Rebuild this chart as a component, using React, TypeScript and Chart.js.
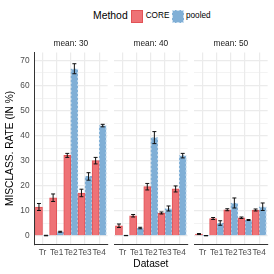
import React, { useEffect, useRef } from 'react';
import { Chart, registerables } from 'chart.js';

Chart.register(...registerables);

// ---------- data ----------
const categories = ['Tr', 'Te1', 'Te2', 'Te3', 'Te4'];
const facetLabels = ['mean: 30', 'mean: 40', 'mean: 50'];
const seriesNames = ['CORE', 'pooled'];

const core30 = [11.5, 15.2, 32.1, 17.1, 30.0];
const coreErr30 = [1.4, 1.5, 0.8, 1.5, 1.3];
const pooled30 = [0.1, 1.6, 66.7, 23.7, 44.0];
const pooledErr30 = [0.1, 0.2, 2.0, 1.5, 0.5];

const core40 = [4.0, 8.0, 19.6, 9.1, 18.7];
const coreErr40 = [0.7, 0.5, 1.3, 0.4, 1.2];
const pooled40 = [0.1, 3.1, 39.2, 10.9, 32.0];
const pooledErr40 = [0.05, 0.3, 2.4, 1.0, 0.9];

const core50 = [0.7, 6.9, 10.4, 7.2, 10.3];
const coreErr50 = [0.2, 0.4, 0.4, 0.3, 0.4];
const pooled50 = [0.05, 5.1, 13.1, 6.3, 11.6];
const pooledErr50 = [0.05, 0.9, 2.0, 0.2, 1.5];

const yTickValues = [0, 5, 10, 15, 20, 25, 30, 35, 40, 45, 50, 55, 60, 65, 70];
const yLabelValues = [0, 10, 20, 30, 40, 50, 60, 70];

const legendTitle = 'Method';
const xTitle = 'Dataset';
const yTitle = 'MISCLASS. RATE (IN %)';

// ---------- style ----------
const FONT = "'Liberation Sans', Arial, Helvetica, sans-serif";
const CORE_FILL = 'rgb(238,114,118)';
const CORE_BORDER = 'rgb(226,82,86)';
const POOLED_FILL = 'rgb(128,175,214)';
const POOLED_DOT = 'rgb(205,224,240)';
const GRID = '#EBEBEB';
const AXIS = '#333333';

const Y_MIN = -3.4;
const Y_MAX = 73.2;

const panels = [
  { label: facetLabels[0], core: core30, coreErr: coreErr30, pooled: pooled30, pooledErr: pooledErr30 },
  { label: facetLabels[1], core: core40, coreErr: coreErr40, pooled: pooled40, pooledErr: pooledErr40 },
  { label: facetLabels[2], core: core50, coreErr: coreErr50, pooled: pooled50, pooledErr: pooledErr50 },
];

// canvas placement of each facet
const layoutBoxes = [
  { left: 0, width: 109, axisWidth: 34 },
  { left: 114, width: 75, axisWidth: 0 },
  { left: 194, width: 75, axisWidth: 0 },
];

const errorBarPlugin = {
  id: 'errorBars',
  afterDatasetsDraw(chart: any) {
    const ctx = chart.ctx;
    const yScale = chart.scales.y;
    chart.data.datasets.forEach((ds: any, di: number) => {
      const meta = chart.getDatasetMeta(di);
      meta.data.forEach((el: any, i: number) => {
        const v = ds.data[i].y;
        const e = ds.errors[i];
        const x = el.x;
        const yTop = yScale.getPixelForValue(v + e);
        const yBot = yScale.getPixelForValue(v - e);
        const half = el.width * 0.28;
        ctx.save();
        ctx.strokeStyle = '#111';
        ctx.lineWidth = 1;
        ctx.beginPath();
        ctx.moveTo(x, yTop);
        ctx.lineTo(x, yBot);
        ctx.moveTo(x - half, yTop);
        ctx.lineTo(x + half, yTop);
        ctx.moveTo(x - half, yBot);
        ctx.lineTo(x + half, yBot);
        ctx.stroke();
        ctx.restore();
      });
    });
  },
};

function makeDotPattern(): CanvasPattern | string {
  const c = document.createElement('canvas');
  c.width = 4;
  c.height = 4;
  const g = c.getContext('2d');
  if (!g) return POOLED_DOT;
  g.fillStyle = POOLED_FILL;
  g.fillRect(0, 0, 4, 4);
  g.fillStyle = POOLED_DOT;
  g.fillRect(0, 0, 2, 2);
  g.fillRect(2, 2, 2, 2);
  const p = g.createPattern(c, 'repeat');
  return p || POOLED_DOT;
}

function Facet({ index }: { index: number }) {
  const ref = useRef<HTMLCanvasElement>(null);
  const box = layoutBoxes[index];
  useEffect(() => {
    if (!ref.current) return;
    const panel = panels[index];
    const first = index === 0;
    const middle = index === 1;
    const tickFont = { family: FONT, size: 8.3 };
    const chart = new Chart(ref.current, {
      type: 'bar',
      data: {
        datasets: [
          {
            label: seriesNames[0],
            data: panel.core.map((v, i) => ({ x: i + 1, y: v })),
            errors: panel.coreErr,
            backgroundColor: CORE_FILL,
            borderColor: CORE_BORDER,
            borderWidth: 1,
          } as any,
          {
            label: seriesNames[1],
            data: panel.pooled.map((v, i) => ({ x: i + 1, y: v })),
            errors: panel.pooledErr,
            backgroundColor: POOLED_FILL,
            borderColor: makeDotPattern(),
            borderWidth: 1,
          } as any,
        ],
      },
      options: {
        animation: false,
        responsive: false,
        maintainAspectRatio: false,
        layout: { padding: 0 },
        datasets: { bar: { categoryPercentage: 1, barPercentage: 1 } },
        plugins: {
          legend: { display: false },
          tooltip: { enabled: false },
          title: {
            display: true,
            text: panel.label,
            align: 'center',
            fullSize: false,
            color: '#1A1A1A',
            font: { family: FONT, size: 8.3, weight: 'normal' },
            padding: { top: 39, bottom: 3.5 },
          },
        },
        scales: {
          x: {
            type: 'linear',
            min: 0.4,
            max: 5.6,
            offset: false,
            afterBuildTicks: (s: any) => {
              s.ticks = categories.map((_, i) => ({ value: i + 1 }));
            },
            afterFit: (s: any) => {
              s.height = 29.7;
            },
            ticks: {
              autoSkip: false,
              maxRotation: 0,
              minRotation: 0,
              padding: 3,
              color: '#4D4D4D',
              font: tickFont,
              callback: (v: any) => categories[Math.round(Number(v)) - 1] ?? '',
            },
            grid: { color: GRID, lineWidth: 1.2, drawTicks: false, offset: false },
            border: { display: true, color: AXIS, width: 1 },
            title: {
              display: middle,
              text: xTitle,
              color: '#000',
              font: { family: FONT, size: 10.2 },
              padding: { top: 0, bottom: 3.6 },
            },
          },
          y: {
            type: 'linear',
            min: Y_MIN,
            max: Y_MAX,
            afterBuildTicks: (s: any) => {
              s.ticks = yTickValues.map((v) => ({ value: v }));
            },
            afterFit: (s: any) => {
              s.width = box.axisWidth;
            },
            ticks: {
              display: first,
              padding: 4.5,
              color: '#4D4D4D',
              font: tickFont,
              callback: (v: any) => (yLabelValues.includes(Number(v)) ? String(v) : ''),
            },
            grid: {
              drawTicks: false,
              color: GRID,
              lineWidth: (c: any) => (c.tick && yLabelValues.includes(c.tick.value) ? 1.2 : 0.6),
            },
            border: { display: first, color: AXIS, width: 1 },
            title: {
              display: first,
              text: yTitle,
              color: '#000',
              font: { family: FONT, size: 10.2 },
              padding: { top: 3.9, bottom: 0 },
            },
          },
        },
      } as any,
      plugins: [errorBarPlugin],
    });
    return () => chart.destroy();
  }, [index]);
  return (
    <canvas
      ref={ref}
      width={box.width}
      height={274}
      style={{ position: 'absolute', left: box.left, top: 0, width: box.width, height: 274 }}
    />
  );
}

function Legend() {
  const text = { position: 'absolute' as const, fontFamily: FONT, whiteSpace: 'nowrap' as const };
  return (
    <>
      <div style={{ ...text, left: 93, top: 9.7, fontSize: 10.4, lineHeight: '12px', color: '#000' }}>{legendTitle}</div>
      <div
        style={{
          position: 'absolute', left: 130.7, top: 10, width: 12.6, height: 12.6, boxSizing: 'border-box',
          background: CORE_FILL, border: `1px solid ${CORE_BORDER}`,
        }}
      />
      <div style={{ ...text, left: 145.7, top: 11.3, fontSize: 8.2, lineHeight: '10px', color: '#000' }}>{seriesNames[0]}</div>
      <div
        style={{
          position: 'absolute', left: 171.6, top: 10, width: 12.6, height: 12.6, boxSizing: 'border-box',
          background: POOLED_FILL, border: `1px dashed ${POOLED_DOT}`,
        }}
      />
      <div style={{ ...text, left: 186, top: 11.3, fontSize: 8.2, lineHeight: '10px', color: '#000' }}>{seriesNames[1]}</div>
    </>
  );
}

export default function App() {
  return (
    <div style={{ position: 'fixed', left: 0, top: 0, width: 274, height: 274, background: '#fff', overflow: 'hidden' }}>
      <Legend />
      {panels.map((_, i) => (
        <Facet key={i} index={i} />
      ))}
    </div>
  );
}
